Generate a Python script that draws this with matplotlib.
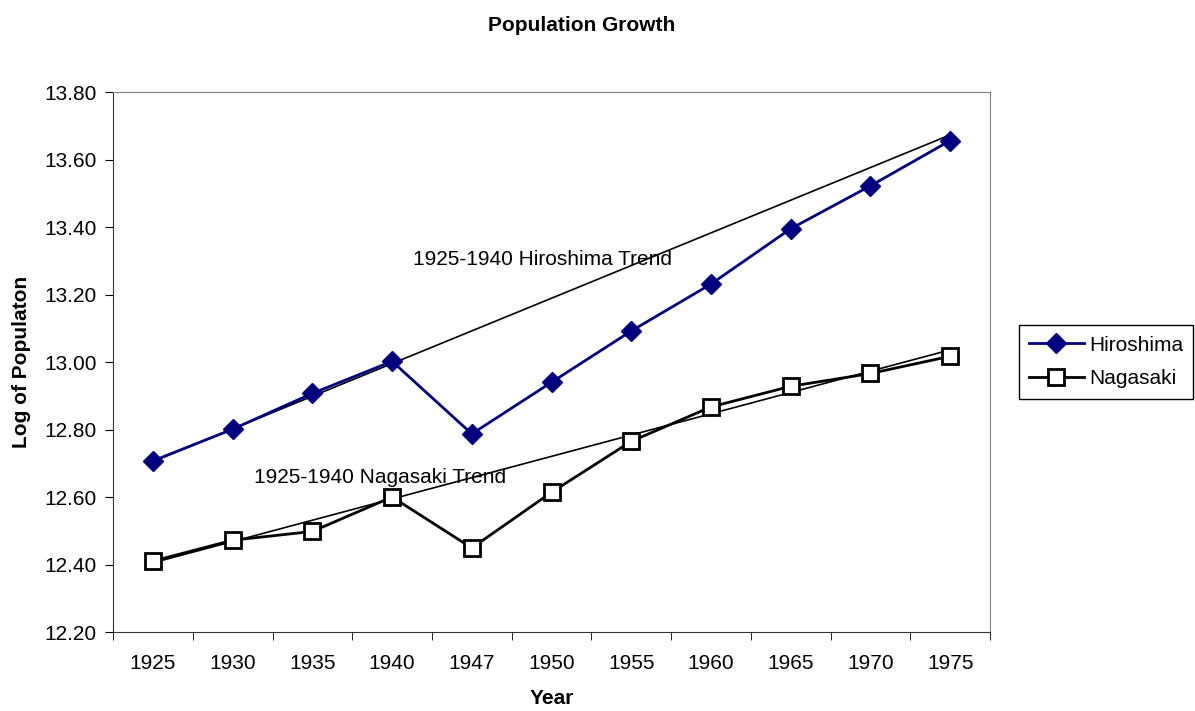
import matplotlib
matplotlib.use("Agg")
import matplotlib.pyplot as plt
import numpy as np

plt.rcParams["font.family"] = ["Liberation Sans", "DejaVu Sans"]

# ---------------------------------------------------------------------------
# Data
# ---------------------------------------------------------------------------
years = ["1925", "1930", "1935", "1940", "1947", "1950",
         "1955", "1960", "1965", "1970", "1975"]
hiroshima = [12.707, 12.801, 12.907, 13.002, 12.787, 12.940,
             13.092, 13.231, 13.395, 13.522, 13.656]
nagasaki = [12.410, 12.472, 12.498, 12.600, 12.449, 12.614,
            12.765, 12.867, 12.928, 12.966, 13.017]

# 1925-1940 trend lines, value at first and last category
hiroshima_trend = [12.705, 13.673]
nagasaki_trend = [12.405, 13.036]

yticks = [12.20, 12.40, 12.60, 12.80, 13.00, 13.20, 13.40, 13.60, 13.80]

NAVY = "#000080"
FS = 15

fig = plt.figure(figsize=(11.95, 7.11), dpi=100)
ax = fig.add_axes([0.0946, 0.1111, 0.7339, 0.7595])

x = np.arange(len(years))
x_ends = [x[0], x[-1]]

ax.plot(x_ends, hiroshima_trend, color="black", lw=1.2, zorder=2)
ax.plot(x_ends, nagasaki_trend, color="black", lw=1.2, zorder=2)

ax.plot(x, hiroshima, color=NAVY, lw=2, marker="D", ms=10,
        mfc=NAVY, mec=NAVY, label="Hiroshima", zorder=3)
ax.plot(x, nagasaki, color="black", lw=2, marker="s", ms=11,
        mfc="white", mec="black", mew=2, label="Nagasaki", zorder=3)

ax.text(3.26, 13.305, "1925-1940 Hiroshima Trend", fontsize=FS,
        va="center", ha="left")
ax.text(1.27, 12.659, "1925-1940 Nagasaki Trend", fontsize=FS,
        va="center", ha="left")

# -- axes ---------------------------------------------------------------
ax.set_xlim(-0.5, len(years) - 0.5)
ax.set_ylim(12.20, 13.80)
ax.set_yticks(yticks)
ax.set_yticklabels([f"{v:.2f}" for v in yticks])
ax.set_xticks(x)
ax.set_xticklabels(years)
ax.set_xticks(np.arange(len(years) + 1) - 0.5, minor=True)
ax.tick_params(axis="x", which="major", length=0, pad=16, labelsize=FS)
ax.tick_params(axis="x", which="minor", length=6, direction="out")
ax.tick_params(axis="y", length=6, direction="out", labelsize=FS, pad=6)

for side in ["top", "right"]:
    ax.spines[side].set_color("#808080")
for side in ["left", "bottom"]:
    ax.spines[side].set_color("#333333")

ax.set_xlabel("Year", fontsize=FS, fontweight="bold", labelpad=11)
ax.set_ylabel("Log of Populaton", fontsize=FS, fontweight="bold", labelpad=9)
fig.suptitle("Population Growth", fontsize=FS, fontweight="bold",
             x=0.487, y=0.978)

leg = ax.legend(loc="center left", bbox_to_anchor=(0.8527, 0.491),
                bbox_transform=fig.transFigure, fontsize=FS,
                fancybox=False, framealpha=1, edgecolor="black",
                handlelength=2.6, handletextpad=0.25, borderpad=0.5,
                labelspacing=0.7, borderaxespad=0)
leg.get_frame().set_linewidth(1)

fig.savefig("out.png", dpi=100)
